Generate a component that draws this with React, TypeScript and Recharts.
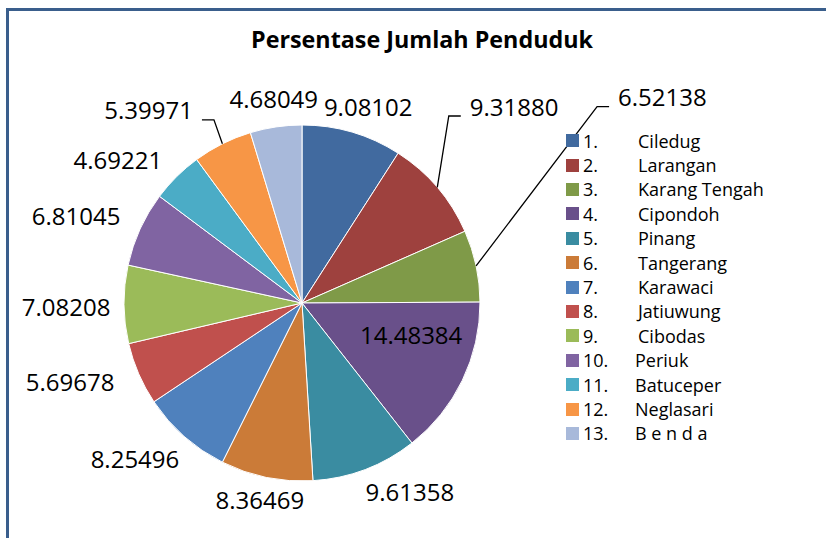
import React from 'react';
import { PieChart, Pie, Cell, Legend } from 'recharts';

const districts = [
  'Ciledug', 'Larangan', 'Karang Tengah', 'Cipondoh', 'Pinang', 'Tangerang', 'Karawaci',
  'Jatiuwung', 'Cibodas', 'Periuk', 'Batuceper', 'Neglasari', 'B e n d a',
];
const percentages = [
  9.08102, 9.3188, 6.52138, 14.48384, 9.61358, 8.36469, 8.25496,
  5.69678, 7.08208, 6.81045, 4.69221, 5.39971, 4.68049,
];
const sliceColors = [
  '#416A9F', '#9E413E', '#7F9A48', '#69508A', '#3A8CA1', '#CB7B38', '#4F81BD',
  '#C0504D', '#9BBB59', '#8064A2', '#4BACC6', '#F79646', '#A8B9DA',
];

const chartData = districts.map((name, i) => ({ name, value: percentages[i] }));

const RAD = Math.PI / 180;
const FONT = '"Open Sans", "Liberation Sans", sans-serif';

// where each value label sits: distance from centre, angle correction, anchor
const labelLayout: { dist: number; nudge: number; anchor?: 'start' | 'end'; leader?: boolean }[] = [
  { dist: 206, nudge: 2.4 },
  { dist: 258, nudge: -8.9, anchor: 'start', leader: true },
  { dist: 377, nudge: -21, anchor: 'start', leader: true },
  { dist: 114, nudge: -9 },
  { dist: 218, nudge: -8.8 },
  { dist: 202, nudge: 0.5 },
  { dist: 229, nudge: 5.4 },
  { dist: 245, nudge: 4.6 },
  { dist: 236, nudge: -0.6 },
  { dist: 242, nudge: -3.5 },
  { dist: 233, nudge: -7.5 },
  { dist: 221, nudge: -3, anchor: 'end', leader: true },
  { dist: 205, nudge: 0.5 },
];

const renderLabel = (props: any) => {
  const { cx, cy, midAngle, outerRadius, index } = props;
  const lay = labelLayout[index];
  const theta = 90 - midAngle;
  const a = (theta + lay.nudge) * RAD;
  const x = cx + lay.dist * Math.sin(a);
  const y = cy - lay.dist * Math.cos(a);
  const anchor = lay.anchor || 'middle';
  let leader = null;
  if (lay.leader) {
    const e = theta * RAD;
    const sx = cx + outerRadius * Math.sin(e);
    const sy = cy - outerRadius * Math.cos(e);
    const dir = anchor === 'start' ? -1 : 1;
    leader = (
      <polyline
        points={`${sx},${sy} ${x + dir * 21},${y + 9} ${x + dir * 9},${y + 9}`}
        fill="none"
        stroke="#000"
        strokeWidth={1.3}
      />
    );
  }
  return (
    <g key={`lbl-${index}`}>
      {leader}
      <text x={x} y={y + 8.5} textAnchor={anchor} fontFamily={FONT} fontSize={24} fill="#000">
        {percentages[index].toFixed(5)}
      </text>
    </g>
  );
};

const ROW = 24.4;

const renderLegend = () => (
  <div style={{ position: 'relative', fontFamily: FONT, fontSize: 18, color: '#000' }}>
    {districts.map((name, i) => (
      <div key={name} style={{ position: 'absolute', top: i * ROW, left: 0, width: 260, height: ROW, lineHeight: `${ROW}px` }}>
        <span style={{ position: 'absolute', left: 0, top: 5.7, width: 13, height: 13, background: sliceColors[i] }} />
        <span style={{ position: 'absolute', left: 17 }}>{i + 1}.</span>
        <span style={{ position: 'absolute', left: i < 9 ? 72 : 69, whiteSpace: 'pre' }}>{name}</span>
      </div>
    ))}
  </div>
);

export default function App() {
  return (
    <div style={{ position: 'absolute', left: 0, top: 0, width: 826, height: 538, overflow: 'hidden', background: '#fff' }}>
      <div style={{ position: 'absolute', left: 6, top: 8, width: 900, height: 700, borderLeft: '3px solid #3A5E8C', borderTop: '3px solid #3A5E8C' }} />
      <div style={{ position: 'absolute', left: 0, top: 23, width: 844, textAlign: 'center', fontFamily: FONT, fontWeight: 700, fontSize: 23.3, color: '#000' }}>
        Persentase Jumlah Penduduk
      </div>
      <div style={{ position: 'absolute', left: 0, top: 0 }}>
        <PieChart width={826} height={538} margin={{ top: 0, right: 0, bottom: 0, left: 0 }}>
          <Pie
            data={chartData}
            dataKey="value"
            nameKey="name"
            cx={302}
            cy={303}
            outerRadius={178}
            startAngle={90}
            endAngle={-270}
            stroke="#fff"
            strokeWidth={1}
            label={renderLabel}
            labelLine={false}
            isAnimationActive={false}
          >
            {chartData.map((d, i) => (
              <Cell key={d.name} fill={sliceColors[i]} />
            ))}
          </Pie>
          <Legend
            content={renderLegend}
            layout="vertical"
            align="right"
            verticalAlign="top"
            wrapperStyle={{ top: 128.5, left: 566, width: 260, height: 330 }}
          />
        </PieChart>
      </div>
    </div>
  );
}
